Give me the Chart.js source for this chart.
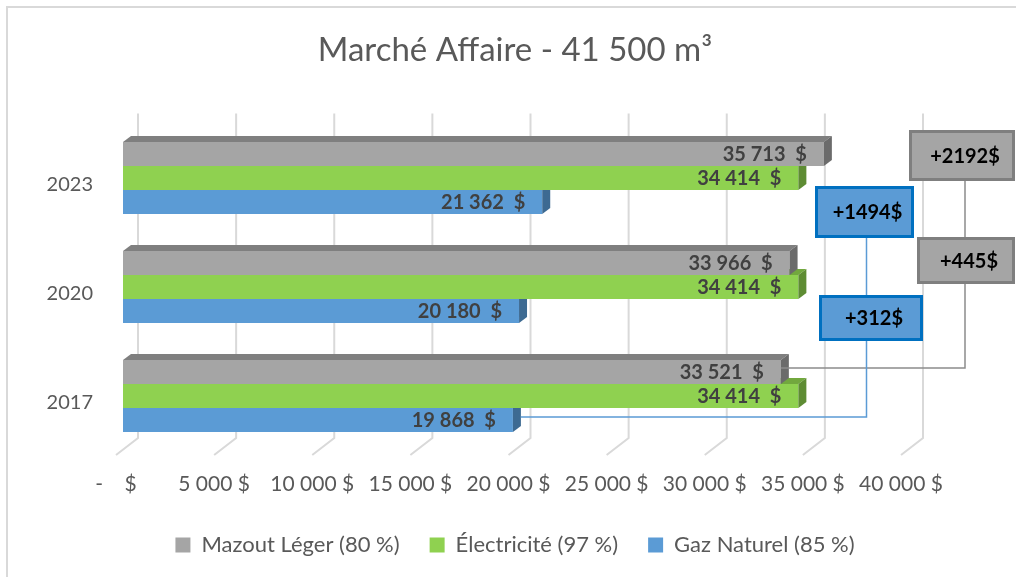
<!DOCTYPE html>
<html><head><meta charset="utf-8">
<script src="https://cdn.jsdelivr.net/npm/chart.js@4.4.1/dist/chart.umd.min.js"></script>
<style>
html,body{margin:0;padding:0;background:#fff;overflow:hidden;width:1016px;height:577px;}
canvas{position:absolute;left:0;top:0;}
</style></head><body>
<canvas id="c" width="1030" height="577" style="width:1030px;height:577px"></canvas>
<script>
// ---- data ----
const categories = ['2023', '2020', '2017'];
const seriesNames = ['Mazout Léger (80 %)', 'Électricité (97 %)', 'Gaz Naturel (85 %)'];
const mazout = [35713, 33966, 33521];
const electricite = [34414, 34414, 34414];
const gaz = [21362, 20180, 19868];
const xTickValues = [0, 5000, 10000, 15000, 20000, 25000, 30000, 35000, 40000];
const titleText = 'Marché Affaire - 41 500 m³';

// ---- styles ----
const FONT = 'Lato, "Open Sans", "Liberation Sans", sans-serif';
const faces = [
  {front: '#a5a5a5', top: '#7f7f7f', side: '#6b6b6b'},
  {front: '#8fd150', top: '#72a83e', side: '#5e8c33'},
  {front: '#5b9bd5', top: '#4a7fb0', side: '#3d6a92'}
];
const DX = 8, DY = 6;

function fmt(v) { return String(v).replace(/\B(?=(\d{3})+(?!\d))/g, ' '); }

const callouts = [
  {text: '+' + (mazout[0] - mazout[2]) + '$', x: 909, y: 130, w: 106, h: 51, fill: '#a5a5a5', stroke: '#7f7f7f'},
  {text: '+' + (mazout[1] - mazout[2]) + '$', x: 917, y: 237, w: 98, h: 47, fill: '#a5a5a5', stroke: '#7f7f7f'},
  {text: '+' + (gaz[0] - gaz[2]) + '$', x: 815, y: 186, w: 99, h: 52, fill: '#5b9bd5', stroke: '#0070c0'},
  {text: '+' + (gaz[1] - gaz[2]) + '$', x: 819, y: 295, w: 104, h: 46, fill: '#5b9bd5', stroke: '#0070c0'}
];

const decor = {
  id: 'decor',
  beforeDraw(chart) {
    const ctx = chart.ctx;
    ctx.save();
    ctx.fillStyle = '#d9d9d9';
    ctx.fillRect(6, 6, 1030, 2);
    ctx.fillRect(6, 6, 2, 577);
    ctx.restore();
  },
  beforeDatasetsDraw(chart) {
    const ctx = chart.ctx, xs = chart.scales.x, ca = chart.chartArea;
    const backY = ca.bottom - 12.5, frontY = ca.bottom + 4.5, topY = ca.top - 10;
    ctx.save();
    ctx.strokeStyle = '#d9d9d9';
    ctx.lineWidth = 2;
    xTickValues.forEach(v => {
      const px = xs.getPixelForValue(v);
      ctx.beginPath();
      ctx.moveTo(px + 15, topY);
      ctx.lineTo(px + 15, backY);
      ctx.lineTo(px - 7, frontY);
      ctx.stroke();
    });
    ctx.restore();
  },
  afterDatasetDraw(chart, args) {
    const ctx = chart.ctx, f = faces[args.index];
    ctx.save();
    args.meta.data.forEach(bar => {
      const p = bar.getProps(['x', 'y', 'base', 'height'], true);
      const t = p.y - p.height / 2, b = p.y + p.height / 2;
      ctx.fillStyle = f.top;
      ctx.beginPath();
      ctx.moveTo(p.base, t); ctx.lineTo(p.base + DX, t - DY);
      ctx.lineTo(p.x + DX, t - DY); ctx.lineTo(p.x, t); ctx.closePath(); ctx.fill();
      ctx.fillStyle = f.side;
      ctx.beginPath();
      ctx.moveTo(p.x, t); ctx.lineTo(p.x + DX, t - DY);
      ctx.lineTo(p.x + DX, b - DY); ctx.lineTo(p.x, b); ctx.closePath(); ctx.fill();
    });
    ctx.restore();
  },
  afterDatasetsDraw(chart) {
    const ctx = chart.ctx;
    ctx.save();
    ctx.font = 'bold 20px ' + FONT;
    ctx.fillStyle = '#404040';
    ctx.textAlign = 'right';
    ctx.textBaseline = 'middle';
    chart.data.datasets.forEach((ds, di) => {
      chart.getDatasetMeta(di).data.forEach((bar, i) => {
        const p = bar.getProps(['x', 'y'], true);
        ctx.fillText(fmt(ds.data[i]) + '  $', p.x - 17, p.y + 1);
      });
    });
    const g = chart.getDatasetMeta(0).data[2].getProps(['x', 'y'], true);
    const bl = chart.getDatasetMeta(2).data[2].getProps(['x', 'y'], true);
    const A = callouts[0], C = callouts[2];
    ctx.lineWidth = 1.5;
    ctx.strokeStyle = '#8c8c8c';
    ctx.beginPath();
    const gx = A.x + A.w / 2 + 3;
    ctx.moveTo(g.x, g.y - 4); ctx.lineTo(gx, g.y - 4); ctx.lineTo(gx, A.y + A.h);
    ctx.stroke();
    ctx.strokeStyle = '#5b9bd5';
    ctx.beginPath();
    const cx = C.x + C.w / 2 + 2;
    ctx.moveTo(bl.x + DX, bl.y - 3); ctx.lineTo(cx, bl.y - 3); ctx.lineTo(cx, C.y + C.h);
    ctx.stroke();
    ctx.textAlign = 'center';
    ctx.font = 'bold 20px ' + FONT;
    callouts.forEach(c => {
      ctx.fillStyle = c.fill;
      ctx.fillRect(c.x, c.y, c.w, c.h);
      ctx.lineWidth = 3;
      ctx.strokeStyle = c.stroke;
      ctx.strokeRect(c.x + 1.5, c.y + 1.5, c.w - 3, c.h - 3);
      ctx.fillStyle = '#000000';
      ctx.fillText(c.text, c.x + c.w / 2 + 3, c.y + c.h / 2 + 1);
    });
    ctx.restore();
  }
};

new Chart(document.getElementById('c'), {
  type: 'bar',
  data: {
    labels: categories,
    datasets: [
      {label: seriesNames[0], data: mazout, backgroundColor: faces[0].front, borderWidth: 0},
      {label: seriesNames[1], data: electricite, backgroundColor: faces[1].front, borderWidth: 0},
      {label: seriesNames[2], data: gaz, backgroundColor: faces[2].front, borderWidth: 0}
    ]
  },
  options: {
    indexAxis: 'y',
    responsive: false,
    animation: false,
    events: [],
    categoryPercentage: 0.66,
    barPercentage: 1.0,
    layout: {padding: {left: 0, right: 0, top: 0, bottom: 11}},
    scales: {
      x: {
        type: 'linear', min: 0, max: 40000,
        afterBuildTicks(s) { s.ticks = xTickValues.map(v => ({value: v})); },
        afterFit(s) { s.height = 53.5; },
        grid: {display: false, drawTicks: false},
        border: {display: false},
        ticks: {
          padding: 21,
          labelOffset: -7,
          color: '#595959',
          font: {family: FONT, size: 21},
          callback: v => v === 0 ? '-    $' : fmt(v) + ' $'
        }
      },
      y: {
        type: 'category',
        afterFit(s) { s.width = 123; },
        grid: {display: false, drawTicks: false},
        border: {display: false},
        ticks: {padding: 30, labelOffset: 7, color: '#595959', font: {family: FONT, size: 20}}
      },
      yRight: {
        type: 'category', position: 'right', labels: categories,
        afterFit(s) { s.width = 122; },
        grid: {display: false, drawTicks: false},
        border: {display: false},
        ticks: {display: false}
      }
    },
    plugins: {
      title: {
        display: true, text: titleText, color: '#595959',
        font: {family: FONT, size: 33, weight: 'normal', lineHeight: 1.2},
        padding: {top: 30.8, bottom: 53.1}
      },
      legend: {
        position: 'bottom',
        labels: {boxWidth: 15, boxHeight: 15, padding: 30, color: '#595959', font: {family: FONT, size: 22}}
      },
      tooltip: {enabled: false}
    }
  },
  plugins: [decor]
});
</script>
</body></html>
